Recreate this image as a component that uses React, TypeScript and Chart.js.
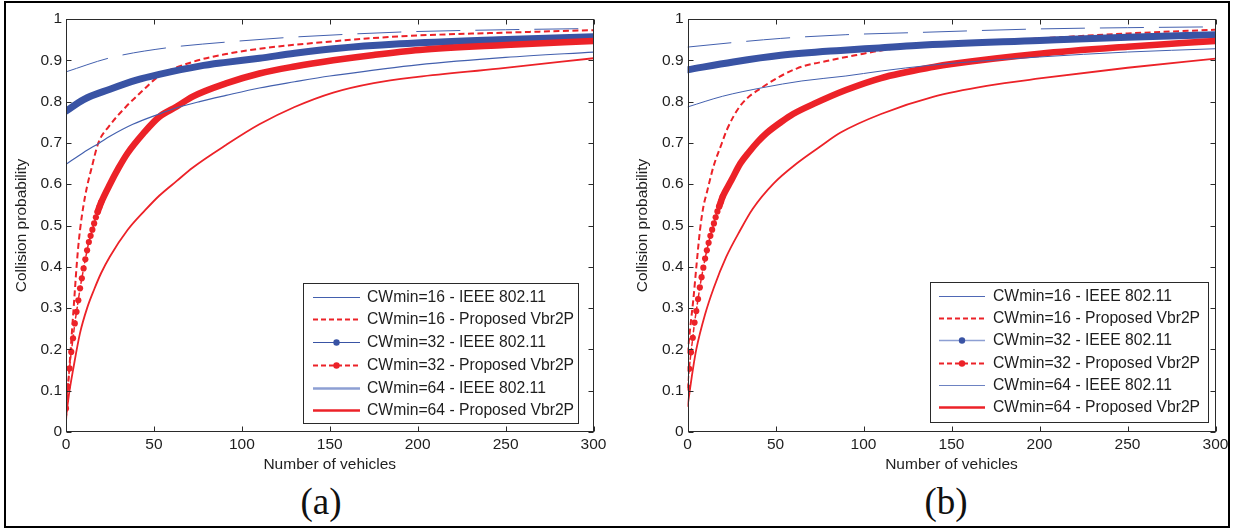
import React, { useEffect, useRef } from "react";
import { Chart, registerables } from "chart.js";

Chart.register(...registerables);

const FONT = '"Liberation Sans", Arial, Helvetica, sans-serif';
const FS = 15.5;

// ---------- ticks ----------
const xTickValues = [0, 50, 100, 150, 200, 250, 300];
const xTickLabels = ["0", "50", "100", "150", "200", "250", "300"];
const yTickValues = [0, 0.1, 0.2, 0.3, 0.4, 0.5, 0.6, 0.7, 0.8, 0.9, 1];
const yTickLabels = ["0", "0.1", "0.2", "0.3", "0.4", "0.5", "0.6", "0.7", "0.8", "0.9", "1"];

const seriesLabels = [
  "CWmin=16 - IEEE 802.11",
  "CWmin=16 - Proposed Vbr2P",
  "CWmin=32 - IEEE 802.11",
  "CWmin=32 - Proposed Vbr2P",
  "CWmin=64 - IEEE 802.11",
  "CWmin=64 - Proposed Vbr2P",
];

// ---------- panel (a) ----------
const a16IeeeX = [0, 25, 57, 91, 125, 160, 194, 250, 300];
const a16IeeeY = [0.872, 0.906, 0.93, 0.944, 0.955, 0.963, 0.969, 0.974, 0.977];

const a16PropX = [0, 1, 2, 3, 4, 5, 6, 7, 8, 10, 12, 14.6, 18.4, 24.4, 34, 42, 53, 72, 91, 110, 152, 190, 250, 300];
const a16PropY = [0.03, 0.1, 0.16, 0.22, 0.28, 0.34, 0.4, 0.45, 0.49, 0.55, 0.595, 0.64, 0.7, 0.74, 0.787, 0.82, 0.862, 0.896, 0.915, 0.928, 0.946, 0.958, 0.967, 0.973];

const a32IeeeX = [0, 10, 25, 40, 53, 76, 91, 110, 130, 152, 190, 246, 300];
const a32IeeeY = [0.777, 0.805, 0.83, 0.852, 0.866, 0.886, 0.895, 0.905, 0.917, 0.928, 0.94, 0.95, 0.957];

const a32PropX = [0, 1, 2, 3, 4, 5, 6, 7, 8, 9, 10, 11, 12, 13, 14, 15, 16, 17, 18, 19, 20, 25, 30, 35, 44, 53, 63, 72, 91, 110, 130, 152, 175, 201, 250, 300];
const a32PropY = [0.057, 0.11, 0.154, 0.194, 0.227, 0.263, 0.291, 0.319, 0.348, 0.372, 0.396, 0.418, 0.44, 0.46, 0.475, 0.49, 0.505, 0.52, 0.533, 0.545, 0.556, 0.6, 0.64, 0.675, 0.723, 0.763, 0.788, 0.812, 0.844, 0.868, 0.885, 0.9, 0.913, 0.925, 0.937, 0.947];

const a64IeeeX = [0, 10, 19, 25, 38, 53, 63, 76, 91, 110, 130, 150, 175, 200, 250, 300];
const a64IeeeY = [0.648, 0.677, 0.7, 0.716, 0.745, 0.77, 0.785, 0.8, 0.815, 0.833, 0.848, 0.862, 0.876, 0.889, 0.907, 0.92];

const a64PropX = [0, 2, 4, 8, 12, 16, 20, 25, 35, 45, 53, 63, 72, 91, 110, 130, 152, 175, 200, 246, 300];
const a64PropY = [0.035, 0.1, 0.15, 0.24, 0.3, 0.345, 0.385, 0.425, 0.489, 0.537, 0.572, 0.608, 0.64, 0.695, 0.745, 0.787, 0.822, 0.845, 0.86, 0.88, 0.905];

// ---------- panel (b) ----------
const b16IeeeX = [0, 26, 53, 90, 128, 200, 250, 300];
const b16IeeeY = [0.932, 0.943, 0.953, 0.962, 0.967, 0.976, 0.979, 0.981];

const b16PropX = [0, 1, 2, 3.3, 5.2, 7.1, 9, 11, 14.7, 19.4, 22.3, 30, 43, 62, 81, 100, 110, 150, 200, 250, 300];
const b16PropY = [0.19, 0.23, 0.27, 0.32, 0.408, 0.489, 0.545, 0.58, 0.642, 0.698, 0.731, 0.79, 0.836, 0.88, 0.9, 0.916, 0.924, 0.94, 0.953, 0.965, 0.974];

const b32IeeeX = [0, 26, 53, 87, 109, 130, 200, 250, 300];
const b32IeeeY = [0.877, 0.896, 0.912, 0.924, 0.93, 0.936, 0.948, 0.956, 0.962];

const b32PropX = [0, 1, 2, 3, 4, 5, 6, 7, 8, 9, 10, 11, 12, 13, 14, 15, 16, 17, 18, 19, 20, 25, 30, 35, 40, 45, 53, 60, 72, 90, 110, 140, 150, 200, 250, 300];
const b32PropY = [0.108, 0.153, 0.193, 0.228, 0.265, 0.293, 0.322, 0.35, 0.375, 0.398, 0.42, 0.44, 0.458, 0.475, 0.49, 0.505, 0.52, 0.534, 0.546, 0.558, 0.57, 0.61, 0.65, 0.678, 0.703, 0.724, 0.75, 0.77, 0.795, 0.828, 0.857, 0.884, 0.891, 0.916, 0.933, 0.947];

const b64IeeeX = [0, 20, 43, 65, 90, 110, 138, 200, 250, 300];
const b64IeeeY = [0.787, 0.813, 0.834, 0.85, 0.862, 0.874, 0.888, 0.908, 0.92, 0.928];

const b64PropX = [0, 3, 5, 10, 15, 22, 30, 37, 49, 62, 75, 87, 110, 140, 170, 200, 250, 300];
const b64PropY = [0.061, 0.15, 0.2, 0.285, 0.35, 0.424, 0.489, 0.54, 0.602, 0.65, 0.69, 0.725, 0.77, 0.812, 0.838, 0.856, 0.882, 0.904];

// ---------- styles ----------
const RED = "#ec2228";
const BLUE = "#3953a4";
const BLUE_THIN = "#4360ae";
const BLUE_LIGHT = "#8d9fd3";
const TEXT = "#1e1e1e";

const pts = (xs: number[], ys: number[]) => xs.map((x, i) => ({ x, y: ys[i] }));

function buildDatasets(s: { x: number[]; y: number[] }[]) {
  const common = {
    pointRadius: 0,
    cubicInterpolationMode: "monotone" as const,
    fill: false,
  };
  const ds: any[] = [
    { ...common, data: pts(s[0].x, s[0].y), borderColor: BLUE_THIN, borderWidth: 1, borderDash: [44, 15] },
    { ...common, data: pts(s[1].x, s[1].y), borderColor: RED, borderWidth: 2, borderDash: [6, 3.5] },
    { ...common, data: pts(s[2].x, s[2].y), borderColor: BLUE, borderWidth: 7, borderCapStyle: "round" },
    {
      ...common,
      data: pts(s[3].x, s[3].y),
      borderColor: RED,
      borderWidth: 6.5,
      borderCapStyle: "round",
      pointRadius: (c: any) => (c.raw && c.raw.x <= 20 ? 3.1 : 0),
      pointBackgroundColor: RED,
      pointBorderWidth: 0,
      segment: {
        borderWidth: (c: any) => (c.p0.parsed.x >= 18 ? 6.5 : 1.5),
        borderDash: (c: any) => (c.p0.parsed.x >= 18 ? [] : [4, 3]),
      },
    },
    { ...common, data: pts(s[4].x, s[4].y), borderColor: BLUE_THIN, borderWidth: 1.2 },
    { ...common, data: pts(s[5].x, s[5].y), borderColor: RED, borderWidth: 1.8 },
  ];
  return ds.map((d, i) => ({ ...d, label: seriesLabels[i], order: ds.length - i }));
}

const axesBoxPlugin = {
  id: "axesBox",
  afterDatasetsDraw(chart: any) {
    const { ctx, chartArea: a, scales } = chart;
    ctx.save();
    ctx.strokeStyle = "#2a2a2a";
    ctx.lineWidth = 1;
    const L = Math.round(a.left) + 0.5;
    const R = Math.round(a.right) - 0.5;
    const T = Math.round(a.top) + 0.5;
    const B = Math.round(a.bottom) - 0.5;
    ctx.strokeRect(L, T, R - L, B - T);
    ctx.beginPath();
    xTickValues.forEach((v) => {
      const p = Math.round(scales.x.getPixelForValue(v)) + 0.5;
      ctx.moveTo(p, B);
      ctx.lineTo(p, B - 5);
      ctx.moveTo(p, T);
      ctx.lineTo(p, T + 5);
    });
    yTickValues.forEach((v) => {
      const p = Math.round(scales.y.getPixelForValue(v)) + 0.5;
      ctx.moveTo(L, p);
      ctx.lineTo(L + 5, p);
      ctx.moveTo(R, p);
      ctx.lineTo(R - 5, p);
    });
    ctx.stroke();
    ctx.restore();
  },
};

const boxLegendPlugin = {
  id: "boxLegend",
  afterDraw(chart: any, _args: any, opts: any) {
    if (!opts || !opts.entries) return;
    const { ctx, chartArea: a } = chart;
    const left = Math.round(a.right - opts.right - opts.width);
    const top = Math.round(a.bottom - opts.bottom - opts.height);
    ctx.save();
    ctx.fillStyle = "#ffffff";
    ctx.fillRect(left, top, opts.width, opts.height);
    ctx.strokeStyle = "#2a2a2a";
    ctx.lineWidth = 1;
    ctx.strokeRect(left + 0.5, top + 0.5, opts.width - 1, opts.height - 1);
    ctx.font = `15.7px ${FONT}`;
    ctx.textBaseline = "middle";
    ctx.textAlign = "left";
    opts.entries.forEach((e: any, i: number) => {
      const y = Math.round(top + opts.firstRow + i * opts.rowStep) + 0.5;
      ctx.beginPath();
      ctx.setLineDash(e.dash || []);
      ctx.strokeStyle = e.color;
      ctx.lineWidth = e.width;
      ctx.moveTo(left + opts.lineStart, y);
      ctx.lineTo(left + opts.lineEnd, y);
      ctx.stroke();
      ctx.setLineDash([]);
      if (e.dot) {
        ctx.beginPath();
        ctx.fillStyle = e.dot;
        ctx.arc(left + (opts.lineStart + opts.lineEnd) / 2, y, 3.2, 0, Math.PI * 2);
        ctx.fill();
      }
      ctx.fillStyle = TEXT;
      ctx.fillText(chart.data.datasets[i].label, left + opts.textX, y + 0.5);
    });
    ctx.restore();
  },
};

const legendA = {
  width: 276, height: 141, right: 14.5, bottom: 8, firstRow: 13.7, rowStep: 22.7,
  lineStart: 10, lineEnd: 57, textX: 64,
  entries: [
    { color: BLUE_THIN, width: 1 },
    { color: RED, width: 2, dash: [5, 3] },
    { color: BLUE, width: 1, dot: BLUE },
    { color: RED, width: 2, dash: [5, 3], dot: RED },
    { color: BLUE_LIGHT, width: 2.5 },
    { color: RED, width: 2.5 },
  ],
};

const legendB = {
  width: 279, height: 141, right: 6.5, bottom: 9, firstRow: 13.7, rowStep: 22.3,
  lineStart: 9, lineEnd: 55, textX: 63,
  entries: [
    { color: "#4f68b5", width: 1 },
    { color: RED, width: 2, dash: [5, 3] },
    { color: BLUE_LIGHT, width: 1.5, dot: BLUE },
    { color: RED, width: 2, dash: [5, 3], dot: RED },
    { color: "#6d82c2", width: 1 },
    { color: RED, width: 2.5 },
  ],
};

function makeConfig(datasets: any[], legend: any, padLeft: number, padRight: number, titlePad: number): any {
  return {
    type: "line",
    data: { datasets },
    plugins: [axesBoxPlugin, boxLegendPlugin],
    options: {
      responsive: false,
      animation: false,
      layout: { padding: { left: padLeft, right: padRight, top: 19, bottom: 0 } },
      plugins: {
        legend: { display: false },
        tooltip: { enabled: false },
        boxLegend: legend,
      },
      scales: {
        x: {
          type: "linear",
          min: 0,
          max: 300,
          afterBuildTicks: (s: any) => {
            s.ticks = xTickValues.map((v) => ({ value: v }));
          },
          afterFit: (s: any) => {
            s.height = 48;
          },
          ticks: {
            callback: (_v: any, i: number) => xTickLabels[i],
            font: { family: FONT, size: FS },
            color: TEXT,
            padding: 3,
            maxRotation: 0,
            autoSkip: false,
          },
          grid: { display: false, drawTicks: false },
          border: { display: false },
          title: {
            display: true,
            text: "Number of vehicles",
            font: { family: FONT, size: FS },
            color: TEXT,
            padding: { top: 0, bottom: 6 },
          },
        },
        y: {
          type: "linear",
          min: 0,
          max: 1,
          afterBuildTicks: (s: any) => {
            s.ticks = yTickValues.map((v) => ({ value: v }));
          },
          afterFit: (s: any) => {
            s.width = 66;
          },
          ticks: {
            callback: (_v: any, i: number) => yTickLabels[i],
            font: { family: FONT, size: FS },
            color: TEXT,
            padding: 4,
            autoSkip: false,
          },
          grid: { display: false, drawTicks: false },
          border: { display: false },
          title: {
            display: true,
            text: "Collision probability",
            font: { family: FONT, size: FS },
            color: TEXT,
            padding: { top: titlePad, bottom: 0 },
          },
        },
      },
    },
  };
}

export default function App() {
  const refA = useRef<HTMLCanvasElement | null>(null);
  const refB = useRef<HTMLCanvasElement | null>(null);

  useEffect(() => {
    const dsA = buildDatasets([
      { x: a16IeeeX, y: a16IeeeY },
      { x: a16PropX, y: a16PropY },
      { x: a32IeeeX, y: a32IeeeY },
      { x: a32PropX, y: a32PropY },
      { x: a64IeeeX, y: a64IeeeY },
      { x: a64PropX, y: a64PropY },
    ]);
    const dsB = buildDatasets([
      { x: b16IeeeX, y: b16IeeeY },
      { x: b16PropX, y: b16PropY },
      { x: b32IeeeX, y: b32IeeeY },
      { x: b32PropX, y: b32PropY },
      { x: b64IeeeX, y: b64IeeeY },
      { x: b64PropX, y: b64PropY },
    ]);
    dsB[4].borderWidth = 1;
    const chartA = new Chart(refA.current as HTMLCanvasElement, makeConfig(dsA, legendA, 0, 26.5, 12.5));
    const chartB = new Chart(refB.current as HTMLCanvasElement, makeConfig(dsB, legendB, 1.5, 24.5, 12));
    return () => {
      chartA.destroy();
      chartB.destroy();
    };
  }, []);

  const caption: React.CSSProperties = {
    position: "absolute",
    top: 481,
    width: 100,
    height: 42,
    lineHeight: "42px",
    textAlign: "center",
    fontFamily: '"Liberation Serif", "Times New Roman", serif',
    fontSize: 37,
    color: "#111",
  };

  return (
    <div style={{ position: "absolute", left: 0, top: 0, width: 1240, height: 532, background: "#fff", overflow: "hidden" }}>
      <canvas ref={refA} width={620} height={480} style={{ position: "absolute", left: 0, top: 0 }} />
      <canvas ref={refB} width={620} height={480} style={{ position: "absolute", left: 620, top: 0 }} />
      <div style={{ ...caption, left: 271 }}>(a)</div>
      <div style={{ ...caption, left: 896 }}>(b)</div>
      <div
        style={{
          position: "absolute",
          left: 4,
          top: 1,
          width: 1222,
          height: 523,
          border: "2px solid #000",
          pointerEvents: "none",
        }}
      />
    </div>
  );
}
